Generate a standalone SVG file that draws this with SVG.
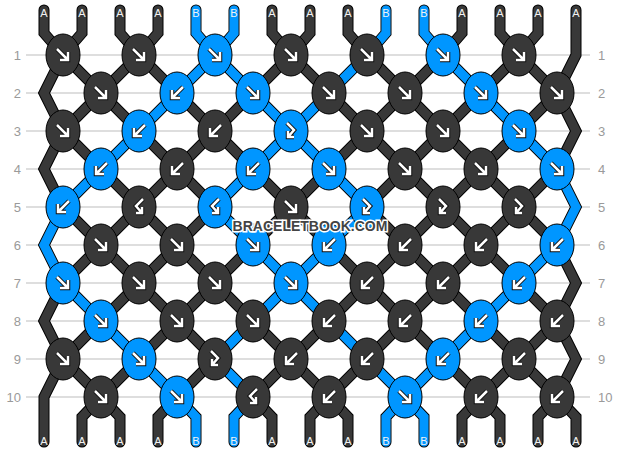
<svg xmlns="http://www.w3.org/2000/svg" xmlns:xlink="http://www.w3.org/1999/xlink" width="620" height="452" viewBox="0 0 620 452">
<style>
.grid{stroke:#bdbdbd;stroke-width:1}
.rl{font-family:"Liberation Sans",Arial,sans-serif;font-size:13px;fill:#9a9a9a}
.sl{font-family:"Liberation Sans",Arial,sans-serif;font-size:11px;fill:#f2f2f2;text-anchor:middle}
.so{fill:none;stroke:#000;stroke-width:11;stroke-linecap:round;stroke-linejoin:miter}
.sa{fill:none;stroke:#383838;stroke-width:9;stroke-linecap:round;stroke-linejoin:miter}
.sb{fill:none;stroke:#0096ff;stroke-width:9;stroke-linecap:round;stroke-linejoin:miter}
.ka{fill:#383838;stroke:#000;stroke-width:1}
.kb{fill:#0096ff;stroke:#000;stroke-width:1}
.ao{fill:none;stroke:#111;stroke-width:4.5}
.ai{fill:none;stroke:#fff;stroke-width:2.5}
.wm{font-family:"Liberation Sans",Arial,sans-serif;font-size:14px;font-weight:bold;fill:#444;stroke:#fff;stroke-width:3;paint-order:stroke;text-anchor:middle}
</style>
<defs>
<g id="af"><path class="ao" d="M-6,-6 L5,5 M5,-3 L5,5 L-3,5"/><path class="ai" d="M-6,-6 L5,5 M5,-3 L5,5 L-3,5"/></g>
<g id="ab"><path class="ao" d="M6,-6 L-5,5 M-5,-3 L-5,5 L3,5"/><path class="ai" d="M6,-6 L-5,5 M-5,-3 L-5,5 L3,5"/></g>
<g id="afb"><path class="ao" d="M-4,-8 L3,-1 L-3,6 M-3,0 L-3,6 L3,6"/><path class="ai" d="M-4,-8 L3,-1 L-3,6 M-3,0 L-3,6 L3,6"/></g>
<g id="abf"><path class="ao" d="M4,-8 L-3,-1 L3,6 M3,0 L3,6 L-3,6"/><path class="ai" d="M4,-8 L-3,-1 L3,6 M3,0 L3,6 L-3,6"/></g>
<ellipse id="kn" rx="17" ry="21"/>
<path id="p0" d="M44,10 L44,33 63,55 44,93 63,131 44,169 63,207 44,245 63,283 44,321 63,359 44,397 44,417 44,442"/>
<path id="p1" d="M82,10 L82,33 63,55 101,93 63,131 101,169 63,207 101,245 63,283 101,321 63,359 101,397 82,417 82,442"/>
<path id="p2" d="M120,10 L120,33 139,55 101,93 139,131 101,169 139,207 101,245 139,283 101,321 139,359 101,397 120,417 120,442"/>
<path id="p3" d="M158,10 L158,33 139,55 177,93 139,131 177,169 139,207 177,245 139,283 177,321 139,359 177,397 158,417 158,442"/>
<path id="p4" d="M196,10 L196,33 215,55 177,93 215,131 177,169 215,207 177,245 215,283 177,321 215,359 177,397 196,417 196,442"/>
<path id="p5" d="M234,10 L234,33 215,55 253,93 215,131 253,169 215,207 253,245 215,283 253,321 215,359 253,397 234,417 234,442"/>
<path id="p6" d="M272,10 L272,33 291,55 253,93 291,131 253,169 291,207 253,245 291,283 253,321 291,359 253,397 272,417 272,442"/>
<path id="p7" d="M310,10 L310,33 291,55 329,93 291,131 329,169 291,207 329,245 291,283 329,321 291,359 329,397 310,417 310,442"/>
<path id="p8" d="M348,10 L348,33 367,55 329,93 367,131 329,169 367,207 329,245 367,283 329,321 367,359 329,397 348,417 348,442"/>
<path id="p9" d="M386,10 L386,33 367,55 405,93 367,131 405,169 367,207 405,245 367,283 405,321 367,359 405,397 386,417 386,442"/>
<path id="p10" d="M424,10 L424,33 443,55 405,93 443,131 405,169 443,207 405,245 443,283 405,321 443,359 405,397 424,417 424,442"/>
<path id="p11" d="M462,10 L462,33 443,55 481,93 443,131 481,169 443,207 481,245 443,283 481,321 443,359 481,397 462,417 462,442"/>
<path id="p12" d="M500,10 L500,33 519,55 481,93 519,131 481,169 519,207 481,245 519,283 481,321 519,359 481,397 500,417 500,442"/>
<path id="p13" d="M538,10 L538,33 519,55 557,93 519,131 557,169 519,207 557,245 519,283 557,321 519,359 557,397 538,417 538,442"/>
<path id="p14" d="M576,10 L576,33 576,55 557,93 576,131 557,169 576,207 557,245 576,283 557,321 576,359 557,397 576,417 576,442"/>
</defs>
<rect width="620" height="452" fill="#fff"/>
<g id="grid">
<line class="grid" x1="26" y1="55" x2="590" y2="55"/>
<line class="grid" x1="26" y1="93" x2="590" y2="93"/>
<line class="grid" x1="26" y1="131" x2="590" y2="131"/>
<line class="grid" x1="26" y1="169" x2="590" y2="169"/>
<line class="grid" x1="26" y1="207" x2="590" y2="207"/>
<line class="grid" x1="26" y1="245" x2="590" y2="245"/>
<line class="grid" x1="26" y1="283" x2="590" y2="283"/>
<line class="grid" x1="26" y1="321" x2="590" y2="321"/>
<line class="grid" x1="26" y1="359" x2="590" y2="359"/>
<line class="grid" x1="26" y1="397" x2="590" y2="397"/>
</g>
<g id="row-labels">
<text class="rl" x="21" y="60" text-anchor="end">1</text><text class="rl" x="598" y="60">1</text>
<text class="rl" x="21" y="98" text-anchor="end">2</text><text class="rl" x="598" y="98">2</text>
<text class="rl" x="21" y="136" text-anchor="end">3</text><text class="rl" x="598" y="136">3</text>
<text class="rl" x="21" y="174" text-anchor="end">4</text><text class="rl" x="598" y="174">4</text>
<text class="rl" x="21" y="212" text-anchor="end">5</text><text class="rl" x="598" y="212">5</text>
<text class="rl" x="21" y="250" text-anchor="end">6</text><text class="rl" x="598" y="250">6</text>
<text class="rl" x="21" y="288" text-anchor="end">7</text><text class="rl" x="598" y="288">7</text>
<text class="rl" x="21" y="326" text-anchor="end">8</text><text class="rl" x="598" y="326">8</text>
<text class="rl" x="21" y="364" text-anchor="end">9</text><text class="rl" x="598" y="364">9</text>
<text class="rl" x="21" y="402" text-anchor="end">10</text><text class="rl" x="598" y="402">10</text>
</g>
<g id="connectors">
<g class="so">
<use href="#p0"/><use href="#p1"/><use href="#p2"/><use href="#p3"/><use href="#p4"/><use href="#p5"/><use href="#p6"/><use href="#p7"/><use href="#p8"/><use href="#p9"/><use href="#p10"/><use href="#p11"/><use href="#p12"/><use href="#p13"/><use href="#p14"/>
</g>
<g class="sa">
<use href="#p0"/><use href="#p1"/><use href="#p2"/><use href="#p3"/><use href="#p4"/><use href="#p5"/><use href="#p6"/><use href="#p7"/><use href="#p8"/><use href="#p9"/><use href="#p10"/><use href="#p11"/><use href="#p12"/><use href="#p13"/><use href="#p14"/>
</g>
<g class="sb">
<polyline points="63,207 44,245 63,283"/>
<polyline points="101,169 63,207"/><polyline points="63,283 101,321"/>
<polyline points="139,131 101,169"/><polyline points="101,321 139,359"/>
<polyline points="177,93 139,131"/><polyline points="139,359 177,397"/>
<polyline points="196,10 196,33 215,55 177,93"/><polyline points="177,397 196,417 196,442"/>
<polyline points="234,10 234,33 215,55 253,93"/><polyline points="253,169 215,207 253,245"/><polyline points="253,321 215,359 253,397 234,417 234,442"/>
<polyline points="253,93 291,131 253,169"/><polyline points="253,245 291,283 253,321"/>
<polyline points="329,93 291,131 329,169"/><polyline points="329,245 291,283 329,321"/>
<polyline points="367,55 329,93"/><polyline points="329,169 367,207 329,245"/><polyline points="329,321 367,359"/>
<polyline points="386,10 386,33 367,55"/><polyline points="367,359 405,397 386,417 386,442"/>
<polyline points="424,10 424,33 443,55"/><polyline points="443,359 405,397 424,417 424,442"/>
<polyline points="443,55 481,93"/><polyline points="481,321 443,359"/>
<polyline points="481,93 519,131"/><polyline points="519,283 481,321"/>
<polyline points="519,131 557,169"/><polyline points="557,245 519,283"/>
<polyline points="557,169 576,207 557,245"/>
</g>
</g>
<g id="string-labels">
<text class="sl" x="44" y="17">A</text><text class="sl" x="82" y="17">A</text><text class="sl" x="120" y="17">A</text><text class="sl" x="158" y="17">A</text><text class="sl" x="196" y="17">B</text><text class="sl" x="234" y="17">B</text><text class="sl" x="272" y="17">A</text><text class="sl" x="310" y="17">A</text><text class="sl" x="348" y="17">A</text><text class="sl" x="386" y="17">B</text><text class="sl" x="424" y="17">B</text><text class="sl" x="462" y="17">A</text><text class="sl" x="500" y="17">A</text><text class="sl" x="538" y="17">A</text><text class="sl" x="576" y="17">A</text>
<text class="sl" x="44" y="445">A</text><text class="sl" x="82" y="445">A</text><text class="sl" x="120" y="445">A</text><text class="sl" x="158" y="445">A</text><text class="sl" x="196" y="445">B</text><text class="sl" x="234" y="445">B</text><text class="sl" x="272" y="445">A</text><text class="sl" x="310" y="445">A</text><text class="sl" x="348" y="445">A</text><text class="sl" x="386" y="445">B</text><text class="sl" x="424" y="445">B</text><text class="sl" x="462" y="445">A</text><text class="sl" x="500" y="445">A</text><text class="sl" x="538" y="445">A</text><text class="sl" x="576" y="445">A</text>
</g>
<g id="knots">
<g id="k1-1" transform="translate(63,55)"><use href="#kn" class="ka"/><use href="#af"/></g>
<g id="k1-2" transform="translate(139,55)"><use href="#kn" class="ka"/><use href="#af"/></g>
<g id="k1-3" transform="translate(215,55)"><use href="#kn" class="kb"/><use href="#af"/></g>
<g id="k1-4" transform="translate(291,55)"><use href="#kn" class="ka"/><use href="#af"/></g>
<g id="k1-5" transform="translate(367,55)"><use href="#kn" class="ka"/><use href="#af"/></g>
<g id="k1-6" transform="translate(443,55)"><use href="#kn" class="kb"/><use href="#af"/></g>
<g id="k1-7" transform="translate(519,55)"><use href="#kn" class="ka"/><use href="#af"/></g>
<g id="k2-1" transform="translate(101,93)"><use href="#kn" class="ka"/><use href="#af"/></g>
<g id="k2-2" transform="translate(177,93)"><use href="#kn" class="kb"/><use href="#ab"/></g>
<g id="k2-3" transform="translate(253,93)"><use href="#kn" class="kb"/><use href="#af"/></g>
<g id="k2-4" transform="translate(329,93)"><use href="#kn" class="ka"/><use href="#af"/></g>
<g id="k2-5" transform="translate(405,93)"><use href="#kn" class="ka"/><use href="#af"/></g>
<g id="k2-6" transform="translate(481,93)"><use href="#kn" class="kb"/><use href="#af"/></g>
<g id="k2-7" transform="translate(557,93)"><use href="#kn" class="ka"/><use href="#af"/></g>
<g id="k3-1" transform="translate(63,131)"><use href="#kn" class="ka"/><use href="#af"/></g>
<g id="k3-2" transform="translate(139,131)"><use href="#kn" class="kb"/><use href="#ab"/></g>
<g id="k3-3" transform="translate(215,131)"><use href="#kn" class="ka"/><use href="#ab"/></g>
<g id="k3-4" transform="translate(291,131)"><use href="#kn" class="kb"/><use href="#afb"/></g>
<g id="k3-5" transform="translate(367,131)"><use href="#kn" class="ka"/><use href="#af"/></g>
<g id="k3-6" transform="translate(443,131)"><use href="#kn" class="ka"/><use href="#af"/></g>
<g id="k3-7" transform="translate(519,131)"><use href="#kn" class="kb"/><use href="#af"/></g>
<g id="k4-1" transform="translate(101,169)"><use href="#kn" class="kb"/><use href="#ab"/></g>
<g id="k4-2" transform="translate(177,169)"><use href="#kn" class="ka"/><use href="#ab"/></g>
<g id="k4-3" transform="translate(253,169)"><use href="#kn" class="kb"/><use href="#ab"/></g>
<g id="k4-4" transform="translate(329,169)"><use href="#kn" class="kb"/><use href="#af"/></g>
<g id="k4-5" transform="translate(405,169)"><use href="#kn" class="ka"/><use href="#af"/></g>
<g id="k4-6" transform="translate(481,169)"><use href="#kn" class="ka"/><use href="#af"/></g>
<g id="k4-7" transform="translate(557,169)"><use href="#kn" class="kb"/><use href="#af"/></g>
<g id="k5-1" transform="translate(63,207)"><use href="#kn" class="kb"/><use href="#ab"/></g>
<g id="k5-2" transform="translate(139,207)"><use href="#kn" class="ka"/><use href="#abf"/></g>
<g id="k5-3" transform="translate(215,207)"><use href="#kn" class="kb"/><use href="#abf"/></g>
<g id="k5-4" transform="translate(291,207)"><use href="#kn" class="ka"/><use href="#af"/></g>
<g id="k5-5" transform="translate(367,207)"><use href="#kn" class="kb"/><use href="#afb"/></g>
<g id="k5-6" transform="translate(443,207)"><use href="#kn" class="ka"/><use href="#afb"/></g>
<g id="k5-7" transform="translate(519,207)"><use href="#kn" class="ka"/><use href="#afb"/></g>
<g id="k6-1" transform="translate(101,245)"><use href="#kn" class="ka"/><use href="#af"/></g>
<g id="k6-2" transform="translate(177,245)"><use href="#kn" class="ka"/><use href="#af"/></g>
<g id="k6-3" transform="translate(253,245)"><use href="#kn" class="kb"/><use href="#af"/></g>
<g id="k6-4" transform="translate(329,245)"><use href="#kn" class="kb"/><use href="#ab"/></g>
<g id="k6-5" transform="translate(405,245)"><use href="#kn" class="ka"/><use href="#ab"/></g>
<g id="k6-6" transform="translate(481,245)"><use href="#kn" class="ka"/><use href="#ab"/></g>
<g id="k6-7" transform="translate(557,245)"><use href="#kn" class="kb"/><use href="#ab"/></g>
<g id="k7-1" transform="translate(63,283)"><use href="#kn" class="kb"/><use href="#af"/></g>
<g id="k7-2" transform="translate(139,283)"><use href="#kn" class="ka"/><use href="#af"/></g>
<g id="k7-3" transform="translate(215,283)"><use href="#kn" class="ka"/><use href="#af"/></g>
<g id="k7-4" transform="translate(291,283)"><use href="#kn" class="kb"/><use href="#af"/></g>
<g id="k7-5" transform="translate(367,283)"><use href="#kn" class="ka"/><use href="#ab"/></g>
<g id="k7-6" transform="translate(443,283)"><use href="#kn" class="ka"/><use href="#ab"/></g>
<g id="k7-7" transform="translate(519,283)"><use href="#kn" class="kb"/><use href="#ab"/></g>
<g id="k8-1" transform="translate(101,321)"><use href="#kn" class="kb"/><use href="#af"/></g>
<g id="k8-2" transform="translate(177,321)"><use href="#kn" class="ka"/><use href="#af"/></g>
<g id="k8-3" transform="translate(253,321)"><use href="#kn" class="ka"/><use href="#af"/></g>
<g id="k8-4" transform="translate(329,321)"><use href="#kn" class="ka"/><use href="#ab"/></g>
<g id="k8-5" transform="translate(405,321)"><use href="#kn" class="ka"/><use href="#ab"/></g>
<g id="k8-6" transform="translate(481,321)"><use href="#kn" class="kb"/><use href="#ab"/></g>
<g id="k8-7" transform="translate(557,321)"><use href="#kn" class="ka"/><use href="#ab"/></g>
<g id="k9-1" transform="translate(63,359)"><use href="#kn" class="ka"/><use href="#af"/></g>
<g id="k9-2" transform="translate(139,359)"><use href="#kn" class="kb"/><use href="#af"/></g>
<g id="k9-3" transform="translate(215,359)"><use href="#kn" class="ka"/><use href="#afb"/></g>
<g id="k9-4" transform="translate(291,359)"><use href="#kn" class="ka"/><use href="#ab"/></g>
<g id="k9-5" transform="translate(367,359)"><use href="#kn" class="ka"/><use href="#ab"/></g>
<g id="k9-6" transform="translate(443,359)"><use href="#kn" class="kb"/><use href="#ab"/></g>
<g id="k9-7" transform="translate(519,359)"><use href="#kn" class="ka"/><use href="#ab"/></g>
<g id="k10-1" transform="translate(101,397)"><use href="#kn" class="ka"/><use href="#af"/></g>
<g id="k10-2" transform="translate(177,397)"><use href="#kn" class="kb"/><use href="#af"/></g>
<g id="k10-3" transform="translate(253,397)"><use href="#kn" class="ka"/><use href="#abf"/></g>
<g id="k10-4" transform="translate(329,397)"><use href="#kn" class="ka"/><use href="#ab"/></g>
<g id="k10-5" transform="translate(405,397)"><use href="#kn" class="kb"/><use href="#af"/></g>
<g id="k10-6" transform="translate(481,397)"><use href="#kn" class="ka"/><use href="#ab"/></g>
<g id="k10-7" transform="translate(557,397)"><use href="#kn" class="ka"/><use href="#ab"/></g>
</g>
<text id="watermark" class="wm" x="310" y="231">BRACELETBOOK.COM</text>
</svg>
